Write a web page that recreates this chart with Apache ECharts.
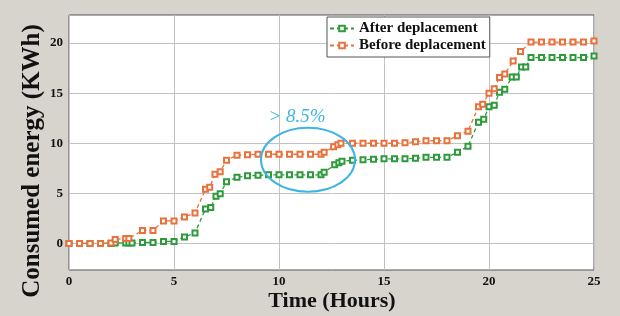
<!DOCTYPE html>
<html>
<head>
<meta charset="utf-8" />
<title>Consumed energy</title>
<script type="text/javascript" src="https://cdn.jsdelivr.net/npm/echarts@6/dist/echarts.min.js"></script>
<style>
  html, body { margin: 0; padding: 0; background: #d7d4ce; }
  #chart { width: 620px; height: 316px; }
</style>
</head>
<body>
<div id="chart"></div>
<script type="text/javascript">
    // hours and energy (kWh)
    var hoursAfter = [0, 0.5, 1, 1.5, 2, 2.2, 2.7, 2.85, 3, 3.5, 4, 4.5, 5, 5.5, 6, 6.5, 6.75, 7, 7.2, 7.5,
        8, 8.5, 9, 9.5, 10, 10.5, 11, 11.5, 12, 12.15, 12.65, 12.85, 13, 13.5, 14, 14.5, 15, 15.5, 16, 16.5,
        17, 17.5, 18, 18.5, 19, 19.5, 19.75, 20, 20.25, 20.5, 20.75, 21.1, 21.3, 21.55, 21.75, 22, 22.5, 23,
        23.5, 24, 24.5, 25];
    var energyAfter = [0, 0, 0, 0, 0, 0.05, 0.05, 0.05, 0.05, 0.1, 0.1, 0.2, 0.2, 0.65, 1.05, 3.45, 3.6, 4.7, 4.95, 6.15,
        6.6, 6.75, 6.8, 6.85, 6.85, 6.85, 6.85, 6.85, 6.85, 7.1, 7.85, 8.05, 8.2, 8.3, 8.35, 8.4, 8.45, 8.45, 8.45, 8.5,
        8.6, 8.6, 8.6, 9.1, 9.7, 12.1, 12.4, 13.65, 13.8, 15.1, 15.4, 16.6, 16.6, 17.6, 17.6, 18.55, 18.55, 18.55,
        18.55, 18.55, 18.55, 18.7];

    var hoursBefore = [0, 0.5, 1, 1.5, 2, 2.2, 2.7, 2.85, 3.5, 4, 4.5, 5, 5.5, 6, 6.5, 6.7, 6.95, 7.2, 7.5,
        8, 8.5, 9, 9.5, 10, 10.5, 11, 11.5, 12, 12.15, 12.6, 12.8, 12.95, 13.5, 14, 14.5, 15, 15.5, 16, 16.5,
        17, 17.5, 18, 18.5, 19, 19.5, 19.7, 20, 20.25, 20.5, 20.75, 21.15, 21.5, 22, 22.5, 23, 23.5, 24, 24.5, 25];
    var energyBefore = [0, 0, 0, 0, 0.05, 0.4, 0.5, 0.5, 1.3, 1.3, 2.25, 2.25, 2.65, 3.05, 5.4, 5.6, 6.9, 7.15, 8.3,
        8.8, 8.85, 8.9, 8.9, 8.9, 8.9, 8.9, 8.9, 8.9, 9.1, 9.65, 9.85, 10, 10, 10, 10, 10, 10, 10.05, 10.15,
        10.25, 10.25, 10.25, 10.75, 11.2, 13.65, 13.9, 15, 15.45, 16.55, 16.9, 18.2, 19.15, 20.1, 20.1, 20.1, 20.1, 20.1, 20.1, 20.2];

    var yTicks = [0, 5, 10, 15, 20];
    var seriesNames = ['After deplacement', 'Before deplacement'];
    var noteText = '> 8.5%';

    function pairs(xs, ys) {
        return xs.map(function (x, i) { return [x, ys[i]]; });
    }

    var serif = 'Liberation Serif';
    var myChart = echarts.init(document.getElementById('chart'));

    myChart.setOption({
        animation: false,
        backgroundColor: '#d7d4ce',
        grid: {
            left: 69, right: 26, top: 15, bottom: 46,
            show: true, backgroundColor: '#ffffff', borderColor: '#555555', borderWidth: 1
        },
        legend: {
            data: seriesNames,
            orient: 'vertical',
            left: 327, top: 17,
            itemWidth: 24, itemHeight: 7, itemGap: 2,
            padding: [4, 4, 4, 2],
            backgroundColor: '#ffffff',
            borderColor: '#555555', borderWidth: 1,
            textStyle: { fontFamily: serif, fontWeight: 'bold', fontSize: 15, color: '#111' }
        },
        xAxis: {
            type: 'value',
            min: 0, max: 25, interval: 5,
            axisLine: { show: false },
            axisTick: { show: false },
            axisLabel: { margin: 5, fontFamily: serif, fontWeight: 'bold', fontSize: 13, color: '#111' },
            splitLine: { show: true, lineStyle: { color: '#c2c2c2', width: 1 } }
        },
        yAxis: {
            type: 'value',
            min: -2.65, max: 22.8,
            axisLine: { show: false },
            axisTick: { show: false, customValues: yTicks },
            axisLabel: { customValues: yTicks, margin: 6, fontFamily: serif, fontWeight: 'bold', fontSize: 13, color: '#111' },
            splitLine: { show: true, lineStyle: { color: '#c2c2c2', width: 1 } }
        },
        series: [
            {
                name: seriesNames[0],
                type: 'line',
                data: pairs(hoursAfter, energyAfter),
                symbol: 'emptyRect', symbolSize: 5,
                color: '#2e9a3c',
                lineStyle: { type: [4, 3], width: 1.3, color: '#2e9a3c' },
                itemStyle: { color: '#2e9a3c', borderWidth: 1 }
            },
            {
                name: seriesNames[1],
                type: 'line',
                data: pairs(hoursBefore, energyBefore),
                symbol: 'emptyRect', symbolSize: 5,
                color: '#e8713c',
                lineStyle: { type: [4, 3], width: 1.3, color: '#e8713c' },
                itemStyle: { color: '#e8713c', borderWidth: 1 }
            }
        ]
    });

    // annotation: ellipse round the gap, and the percentage above it
    var c = myChart.convertToPixel({ gridIndex: 0 }, [11.38, 8.36]);
    var t = myChart.convertToPixel({ gridIndex: 0 }, [10.86, 12.6]);

    myChart.setOption({
        graphic: [
            {
                type: 'ellipse',
                shape: { cx: c[0], cy: c[1], rx: 47, ry: 32 },
                style: { fill: null, stroke: '#3db5e2', lineWidth: 2 },
                z: 10
            },
            {
                type: 'text',
                x: t[0], y: t[1],
                style: {
                    text: noteText, fill: '#3db5e2',
                    font: 'italic 19px "Liberation Serif"',
                    textAlign: 'center', textVerticalAlign: 'middle'
                },
                z: 10
            },
            {
                type: 'text',
                x: 33, y: 161, rotation: Math.PI / 2,
                style: {
                    text: 'Consumed energy (KWh)', fill: '#111',
                    font: 'bold 25px "Liberation Serif"',
                    textAlign: 'center', textVerticalAlign: 'middle'
                }
            },
            {
                type: 'text',
                x: 332, y: 301,
                style: {
                    text: 'Time (Hours)', fill: '#111',
                    font: 'bold 22px "Liberation Serif"',
                    textAlign: 'center', textVerticalAlign: 'middle'
                }
            }
        ]
    });
</script>
</body>
</html>
